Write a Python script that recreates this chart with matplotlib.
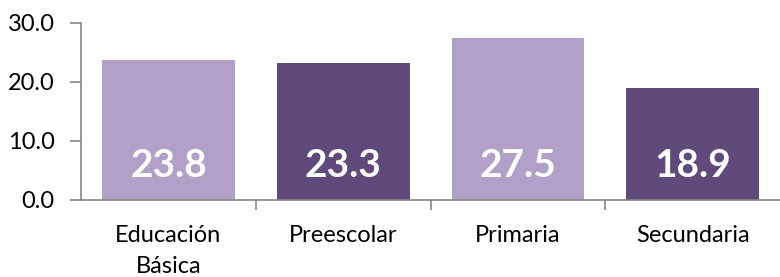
import matplotlib.pyplot as plt

categories = ["Educación\nBásica", "Preescolar", "Primaria", "Secundaria"]
values = [23.8, 23.3, 27.5, 18.9]
colors = ["#B1A0C7", "#604A7B", "#B1A0C7", "#604A7B"]
yticks = [0, 10, 20, 30]

plt.rcParams['font.family'] = ['Lato', 'DejaVu Sans']

fig = plt.figure(figsize=(7.8, 2.77), dpi=100)
ax = fig.add_axes([0.104, 0.278, 0.896, 0.639])

x = range(len(categories))
ax.bar(x, values, width=0.76, color=colors)

# value labels inside the base of each bar
for i, v in enumerate(values):
    ax.text(i, 3.9, f"{v:.1f}", ha="center", va="baseline",
            color="white", fontsize=28, fontweight="bold")

ax.set_xlim(-0.5, len(categories) - 0.5)
ax.set_ylim(0, 30)
ax.set_yticks(yticks)
ax.set_yticklabels([f"{t:.1f}" for t in yticks], fontsize=17)

# category labels centered, ticks at boundaries
ax.set_xticks(list(x))
ax.set_xticklabels(categories, fontsize=17, linespacing=1.6)
ax.tick_params(axis="x", length=0, pad=18)
ax.set_xticks([i + 0.5 for i in range(len(categories) - 1)], minor=True)
ax.tick_params(axis="x", which="minor", length=7, color="#868686", width=1.2)
ax.tick_params(axis="y", length=8, color="#868686", width=1.2, pad=11)

for s in ["top", "right"]:
    ax.spines[s].set_visible(False)
for s in ["left", "bottom"]:
    ax.spines[s].set_color("#868686")
    ax.spines[s].set_linewidth(1.2)

fig.savefig("out.png", dpi=100)
